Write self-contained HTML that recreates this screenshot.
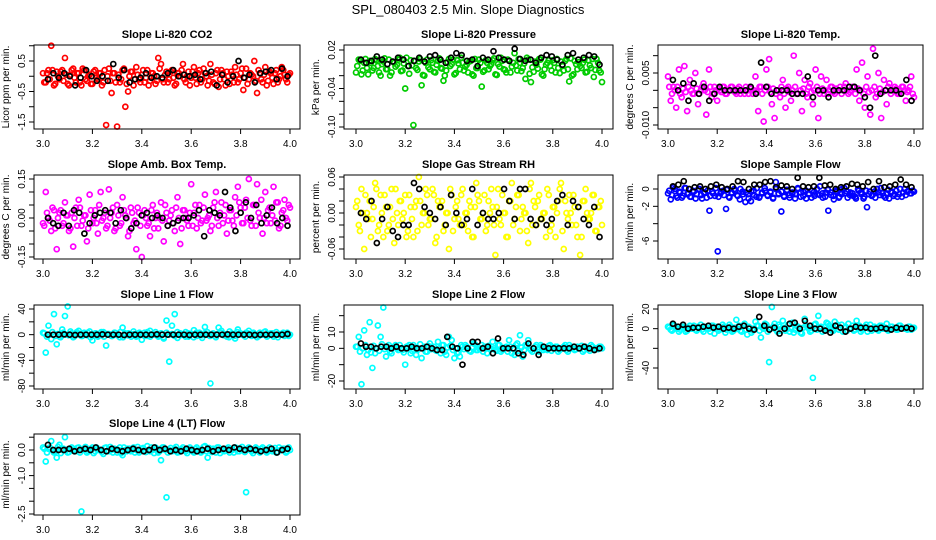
<!DOCTYPE html>
<html><head><meta charset="utf-8"><style>
html,body{margin:0;padding:0;background:#fff;}
svg{display:block;font-family:"Liberation Sans",sans-serif;}
</style></head><body>
<svg id="chart" width="936" height="540" viewBox="0 0 936 540" xmlns="http://www.w3.org/2000/svg">
<rect width="936" height="540" fill="#fff"/>
<text x="468" y="14" text-anchor="middle" font-size="13">SPL_080403  2.5 Min. Slope Diagnostics</text>
</svg>
<script>
const xTicks = [3.0,3.2,3.4,3.6,3.8,4.0];
const titles = ["Slope Li-820 CO2","Slope Li-820 Pressure","Slope Li-820 Temp.","Slope Amb. Box Temp.","Slope Gas Stream RH","Slope Sample Flow","Slope Line 1 Flow","Slope Line 2 Flow","Slope Line 3 Flow","Slope Line 4 (LT) Flow"];
const yTitles = ["Licor ppm per min.","kPa per min.","degrees C per min.","degrees C per min.","percent per min.","ml/min per min.","ml/min per min.","ml/min per min.","ml/min per min.","ml/min per min."];
const seriesColors = ["#ff0000","#00cc00","#ff00ff","#ff00ff","#ffff00","#0000ff","#00ffff","#00ffff","#00ffff","#00ffff"];
const yScaleFactor = [1,0.001,0.001,0.01,0.01,1,1,1,1,1];
const yTickValues = [[1,0.5,0,-0.5,-1,-1.5],[0.02,0,-0.02,-0.04,-0.06,-0.08,-0.10],[0.01,0.005,0,-0.005,-0.01],[0.15,0.1,0.05,0,-0.05,-0.1,-0.15],[0.06,0.04,0.02,0,-0.02,-0.04,-0.06],[0,-2,-4,-6],[40,20,0,-20,-40,-60,-80],[20,10,0,-10,-20],[20,0,-20,-40],[0.5,0,-0.5,-1,-1.5,-2,-2.5]];
const yTickLabels = [[null,"0.5",null,"-0.5",null,"-1.5"],["0.02",null,null,"-0.04",null,null,"-0.10"],[null,"0.005",null,null,"-0.010"],["0.15",null,null,"0.00",null,null,"-0.15"],["0.06",null,null,"0.00",null,null,"-0.06"],["0","-2",null,"-6"],["40",null,"0",null,"-40",null,"-80"],[null,"10","0",null,"-20"],["20","0",null,"-40"],[null,"0.0",null,"-1.0",null,null,"-2.5"]];
const yRefValues = [[0.5,-1.5],[0.02,-0.10],[0.005,-0.010],[0.15,-0.15],[0.06,-0.06],[0,-6],[40,-80],[10,-20],[20,-40],[0,-2.5]];

const co2Color = [0.1,-0.2,0.2,1.0,-0.3,0.15,-0.1,0.2,0.6,-0.25,0.05,0.25,-0.2,0.1,-0.3,0.2,-0.15,0.05,-0.25,0.2,-0.1,0.1,-0.2,-1.6,0.25,-0.55,0.1,-1.65,-0.2,0.2,-1.0,-0.5,0.15,-0.3,0.3,-0.1,0.05,-0.2,0.2,-0.15,0.1,-0.25,0.6,0.4,-0.2,0.15,-0.1,0.2,-0.3,0.1,0.0,0.4,-0.2,0.15,-0.05,0.3,-0.25,0.2,-0.1,0.1,-0.3,0.4,-0.2,0.1,-0.35,0.2,-0.1,0.15,-0.25,0.05,0.3,-0.2,0.1,-0.45,0.25,-0.1,0.05,0.5,-0.55,0.1,-0.2,0.3,-0.15,0.1,-0.25,0.2,-0.1,0.3,0.05,-0.2,0.1];
const co2Extra = [-0.2,0.1,-0.1,0.2,-0.25,0.0,0.15,-0.15,0.05,-0.3,0.2,-0.05,0.1,-0.2,0.25,-0.1,0.0,-0.25,0.15,-0.05,0.1,-0.3,0.2,0.0,-0.15,0.1,-0.2,0.05,-0.1,0.25,-0.25,0.0,0.15,-0.1,0.05,-0.2,0.2,-0.05,-0.3,0.1,0.0,-0.15,0.25,-0.1,0.05,-0.2,0.15,-0.05,-0.25,0.1,0.2,-0.1,0.0,-0.3,0.15,-0.05,0.1,-0.2,0.25,0.0,-0.15,0.05,-0.25,0.2,-0.1,0.1,-0.3,0.0,0.15,-0.2,0.05,-0.1,0.25,-0.05,-0.25,0.1,0.0,-0.15,0.2,-0.1,0.05,-0.3,0.15,-0.05,0.1,-0.2,0.0,0.2,-0.1,0.05];
const co2Black = [-0.1,0.1,-0.05,0.1,0.0,-0.3,-0.05,0.2,0.0,-0.15,0.0,-0.15,0.4,-0.05,0.2,-0.2,-0.1,-0.05,0.1,-0.05,0.0,-0.05,0.1,0.2,0.0,0.05,0.0,0.05,-0.1,0.1,0.15,-0.3,0.05,-0.2,0.0,0.5,-0.05,0.05,-0.2,0.1,0.15,0.2,-0.1,0.25,0.0];
const presColor = [-15,5,-18,0,-8,3,-12,6,-5,-20,2,-10,5,-15,0,-3,8,-12,-40,-5,4,-97,-8,2,-35,-20,5,-10,0,-15,3,-8,-28,-12,6,-2,-18,4,-10,0,-6,-15,3,-20,-8,5,-37,-12,0,-5,4,-18,-2,8,-10,-15,3,-6,15,-12,0,-8,-25,5,-30,-14,-3,6,-18,-10,0,-5,4,-15,-8,2,-12,6,-29,-20,3,-10,-5,0,-15,4,-8,-22,6,-12,-30];
const presExtra = [-5,3,-12,6,-18,0,-8,4,-15,-2,7,-10,-20,2,-6,5,-13,-1,8,-17,-4,3,-11,6,-19,0,-7,4,-14,-3,7,-9,-20,1,-5,5,-16,-1,8,-12,-3,2,-18,6,-8,0,-14,4,-10,-2,7,-19,-6,3,-11,5,-15,0,-4,6,-13,-1,8,-17,-7,2,-9,5,-20,-3,4,-12,0,6,-16,-5,3,-10,7,-18,-2,1,-8,5,-14,-4,6,-11,0,-15];
const presBlack = [5,0,3,10,5,-2,2,8,5,-5,3,8,2,10,12,5,0,8,15,12,3,5,-5,8,5,18,8,5,3,22,6,3,5,0,8,12,10,5,-3,12,15,5,8,12,10,-3];
const licorTempColor = [4,-3,1,-5,6,-2,7,-6,3,-1,5,-4,0,2,-7,6,-2,1,-3,0,1,-1,0,1,0,-1,1,0,-1,0,1,-1,4,-6,1,-9,6,9,-4,-8,0,-2,3,-5,1,-3,10,-1,5,-6,3,-2,2,-4,6,-8,4,-1,3,0,1,-1,0,1,0,2,-1,0,1,6,-3,8,-5,4,-7,12,-2,5,-8,3,-4,2,0,1,-1,0,1,-3,0,4,-2];
const licorTempExtra = [1,-1,0,1,-1,0.5,-0.5,1,0,-1,0.5,-1,1,0,-0.5,1,-1,0,0.5,-0.5,1,-1,0,1,-0.5,0.5,-1,0,1,-1,0.5,0,-0.5,1,-1,0,1,-0.5,0.5,-1,0,1,-1,0.5,-0.5,0,1,-1,0,0.5,-1,1,-0.5,0,1,-1,0.5,0,-1,1,-0.5,0.5,0,-1,1,0,-0.5,1,-1,0.5,0,-1,1,-0.5,0,1,-1,0.5,-0.5,0,1,-1,0,0.5,-1,1,0,-0.5,1,-1];
const licorTempBlack = [3,0,2,-3,2,-1,1,-3,-1,1,0,0,0,0,0,1,-1,8,1,-1,0,0,0,-1,-1,-1,4,-2,0,0,-2,0,0,0,1,1,0,-2,-5,10,-1,0,0,0,-1,3,-3];
const boxTempColor = [-2,10,0,-5,3,-12,2,-3,6,1,-4,-11,4,7,-3,1,-9,9,-2,3,-6,10,0,-4,11,2,-5,5,-3,8,1,-7,4,-2,-12,2,-15,3,-3,-7,5,0,-4,6,-9,2,-1,3,-5,8,-10,3,0,-3,13,2,-4,5,-1,9,0,-5,4,10,-3,6,1,-6,3,-1,8,12,4,-2,7,15,-3,5,13,0,-6,10,3,-2,12,6,-4,2,7,-1,4];
const boxTempExtra = [-3,2,-1,4,-4,0,3,-2,1,-5,2,0,-3,4,-1,1,-4,3,0,-2,5,-1,2,-3,0,4,-4,1,-2,3,0,-5,2,-1,4,-3,1,0,-2,3,-4,2,0,-1,5,-3,1,-2,4,0,-4,3,-1,2,-3,5,0,-2,4,-1,1,-3,6,0,2,-2,5,-1,3,-3,1,6,-2,4,0,-1,5,-3,2,7,0,-2,4,1,-1,6,-3,3,0,5];
const boxTempBlack = [0,-2,-3,2,-3,3,2,-6,-2,1,2,3,2,-2,3,0,-4,-2,1,2,0,1,0,-3,-2,-1,0,0,1,3,-7,3,2,1,10,4,-5,2,6,0,5,-2,1,4,-2,0,-3];
const rhColor = [1,-2,4,-6,0,2,-1,5,-3,3,-4,1,-2,4,-5,0,2,-1,3,-3,1,-4,2,6,-2,0,3,-1,4,-5,2,1,-3,0,-6,3,-1,2,-2,4,0,-3,1,-4,5,2,-1,3,-2,0,1,-7,4,-2,0,-4,2,5,-1,3,-3,1,0,-5,5,2,-2,3,-1,0,4,-3,1,-4,2,5,-6,0,3,-2,1,-4,-7,2,4,-1,0,3,-3,1,-2];
const rhExtra = [2,-3,0,3,-1,-4,1,4,-2,0,3,-3,1,-1,4,-2,2,0,-4,3,-1,1,-3,2,0,4,-2,-1,3,-4,1,2,-2,0,4,-3,1,-1,3,-2,0,2,-4,1,3,-1,0,-3,2,4,-2,1,-1,3,0,-4,2,-2,1,3,-1,0,-3,4,-2,1,2,-1,0,-4,3,-2,1,0,4,-3,2,-1,0,3,-2,1,-4,2,0,-1,3,-3,1,2];
const rhBlack = [0,-1,2,-5,-1,1,-3,-4,-2,-2,5,4,1,0,-1,1,-2,3,0,-2,-1,4,-2,0,-1,-1,0,4,2,-1,4,4,-1,-2,-1,-2,-1,2,3,-2,2,1,-1,-2,1,-4];
const sampleColor = [-0.5,-1.2,0.2,-0.8,-0.3,-1.0,0.1,-0.6,-0.9,-0.2,-1.1,0.0,-0.7,-0.4,-1.0,-2.5,-0.3,-0.8,-7.2,-0.5,-0.2,-2.3,-0.9,-0.4,0.0,-0.7,-1.2,-0.3,-1.5,-0.6,-1.4,-0.2,-0.9,-1.0,-0.4,0.1,-0.7,-0.3,-1.1,0.8,-0.5,-2.6,-0.8,-0.2,-1.0,-0.4,-0.6,0.0,-0.9,-0.3,-1.1,-0.5,-0.2,-0.8,-0.6,0.3,-1.0,-0.4,-2.5,-0.7,-1.2,-0.3,-0.9,0.0,-0.5,-1.0,-0.4,-0.8,-1.1,-0.2,-0.6,-0.9,-2.1,-0.3,-0.7,-1.0,-0.4,0.1,-0.8,-0.5,-1.1,-0.3,-0.6,-0.9,0.0,-0.4,-0.7,-0.2,-0.5,-0.3];
const sampleExtra = [-0.2,-0.7,0.0,-1.0,-0.4,-0.8,0.1,-0.5,-0.9,-0.3,-0.6,0.0,-1.1,-0.4,-0.2,-0.8,-0.5,0.1,-0.9,-0.3,-0.7,-0.1,-1.0,-0.5,-0.2,-0.8,0.0,-0.6,-0.4,-1.1,-0.3,-0.7,0.1,-0.9,-0.5,-0.2,-0.8,-0.4,-1.0,0.0,-0.6,-0.3,-0.9,-0.1,-0.7,-0.5,-1.1,0.1,-0.4,-0.8,-0.2,-0.6,-1.0,-0.3,0.0,-0.7,-0.5,-0.9,-0.1,-0.4,-0.8,-0.2,-1.0,-0.6,0.1,-0.3,-0.7,-0.5,-0.9,0.0,-0.4,-1.1,-0.2,-0.6,-0.8,-0.3,0.0,-0.7,-0.5,-1.0,-0.1,-0.4,-0.8,-0.2,-0.6,-0.9,0.0,-0.3,-0.5,-0.2];
const sampleBlack = [0.3,0.5,0.9,0.0,0.2,0.3,0.0,0.3,0.5,0.2,0.0,0.3,0.9,0.8,0.0,0.5,0.5,0.8,0.9,0.2,0.4,0.3,0.0,1.3,0.3,0.2,0.3,1.3,0.4,0.5,0.0,0.2,0.3,0.6,0.5,0.3,0.8,0.0,0.9,0.2,0.3,0.5,1.1,0.5,0.2];
const line1Color = [3,-28,14,-7,32,-15,-3,8,29,44,5,-4,2,6,-2,3,-1,5,-9,2,-3,0,4,-17,1,-2,3,0,-4,11,2,-1,0,5,-3,1,-8,3,-2,6,0,4,-3,1,-6,22,-42,14,32,-5,2,0,4,-3,1,7,-2,3,-5,12,0,-76,2,-4,11,6,1,-3,5,0,-6,8,2,-1,3,6,-2,1,-4,3,0,5,-1,2,-3,4,0,1,-2,3,0];
const line1Extra = [2,-3,0,4,-2,1,-4,3,0,-1,2,-3,4,0,-2,1,3,-4,0,2,-1,4,-3,1,0,-2,3,-1,4,-4,0,2,-3,1,-1,3,0,-2,4,-3,1,0,-1,2,-4,3,0,1,-2,4,-1,0,-3,2,1,-4,3,0,-1,2,4,-2,0,-3,1,3,-1,0,-4,2,-2,4,1,0,-3,2,-1,3,0,-2,1,4,-3,0,2,-1,-4,1,3,0,-2];
const line1Black = [0,0,0,0.5,0,-0.5,0,0,0,0,0.5,0,0,0,-0.5,0,0,0,0,0,0.5,0,0,0,0,0,-0.5,0,0,0,0,0,0,0.5,0,0,0,0,-0.5,0,0,0,0,0,1];
const line2Color = [1,7,-22,11,-4,16,-12,-3,14,7,25,-5,2,-3,1,0,2,-1,-10,1,-3,2,-4,0,-6,1,-2,3,0,-1,4,-3,2,-4,7,5,-6,-3,-5,1,2,0,-2,3,-1,0,2,1,-3,0,4,-1,2,-2,0,1,5,-3,-4,3,8,-5,2,5,-1,0,2,-2,1,0,-1,2,0,1,-2,0,1,-1,2,0,-1,1,0,-2,1,0,2,-1,0,1,0];
const line2Extra = [1,-2,0,2,-1,-2.5,1.5,0,-1.5,2.5,-0.5,1,-2,0.5,2,-1,0,-2.5,1,2,-1.5,0.5,-1,2.5,0,-2,1.5,-0.5,1,-1.5,0,2,-2,0.5,1.5,-1,0,-2.5,2,-0.5,1,-1.5,0.5,2.5,-1,0,-2,1,1.5,-0.5,0,-1.5,2,-1,0.5,-2,1,0,2,-1.5,0.5,-1,1.5,0,-2,1,-0.5,2,-1,0,1.5,-1.5,0.5,1,-1,0,2,-2,0.5,1,-0.5,0,1.5,-1,0.5,-1.5,1,0,-0.5,1];
const line2Black = [3,1,1,0,1,1,0,1,0,0,1,0,0,1,0,-1,-1,7,1,0,-10,0,4,4,0,1,-3,6,0,0,0,-3,-4,3,0,-4,1,0,0,0,0,0,1,0,1,0,-1,0];
const line3Color = [2,-1,4,0,-3,2,1,-2,3,0,-1,2,4,-3,1,0,3,-5,2,-1,4,-4,1,2,-2,9,3,-3,5,-6,1,-2,7,3,-9,0,4,-34,22,5,-3,2,8,-2,4,0,-4,3,1,-5,10,2,-3,-50,5,13,2,-1,6,3,-2,7,4,1,-3,2,5,0,-2,8,3,-1,2,-3,4,0,1,-2,3,0,5,-1,2,0,-1,3,1,0,2,-1,1];
const line3Extra = [1,-2,3,0,-1,2,-3,1,0,3,-2,1,-1,2,0,-3,3,1,-2,0,2,-1,4,-3,1,0,-2,3,-1,2,-4,0,3,-2,1,5,-3,0,2,-1,4,-2,1,0,-3,6,-1,2,-4,1,3,0,-2,4,-1,1,-3,2,5,0,-2,3,-1,4,1,-2,0,3,-1,2,-3,1,4,0,-2,2,-1,3,0,1,-2,2,0,-1,3,1,0,-1,2,0];
const line3Black = [5,2,4,0,1,1,2,3,1,2,0,1,0,2,3,0,-1,12,3,-1,1,-5,0,5,6,0,8,3,0,0,-2,-4,3,1,-3,0,2,1,1,0,0,1,0,-1,1,0,1,0];
const line4Color = [0.1,-0.45,0.05,0.35,-0.1,-0.3,0.2,0.0,0.5,-0.1,0.05,0.0,-0.05,0.1,-2.4,0.05,-0.1,0.0,0.1,-0.05,0.05,0.0,-0.15,0.1,-0.05,0.0,0.05,-0.1,0.1,-0.2,0.0,0.05,-0.05,0.1,0.0,-0.1,0.05,0.0,0.15,-0.05,0.0,0.1,-0.1,-0.4,0.1,-1.85,0.0,-0.05,0.05,-0.1,0.0,0.1,-0.05,0.05,0.0,-0.1,0.1,0.0,-0.05,0.15,-0.3,0.0,0.05,-0.1,0.1,0.0,-0.05,0.05,-0.1,0.0,0.1,-0.05,0.05,0.0,-1.65,0.1,-0.05,0.0,0.05,-0.1,0.1,0.0,-0.05,0.05,0.0,-0.1,0.1,0.0,0.05,-0.05,0.0];
const line4Extra = [0.05,-0.1,0.1,0.0,-0.05,0.12,-0.12,0.05,0.0,-0.08,0.1,-0.05,0.08,-0.1,0.0,0.12,-0.05,0.05,-0.12,0.1,0.0,-0.08,0.08,-0.03,0.12,-0.1,0.03,0.0,-0.12,0.1,-0.05,0.05,0.0,-0.1,0.12,-0.03,0.08,-0.08,0.0,0.1,-0.12,0.05,-0.05,0.1,0.0,-0.1,0.08,-0.03,0.12,-0.08,0.03,0.0,-0.12,0.1,-0.05,0.05,0.0,-0.1,0.12,-0.05,0.08,-0.08,0.0,0.1,-0.12,0.03,-0.03,0.1,0.0,-0.1,0.08,-0.05,0.12,-0.08,0.05,0.0,-0.12,0.1,-0.03,0.05,0.0,-0.1,0.1,-0.05,0.08,-0.08,0.0,0.05,-0.1,0.1];
const line4Black = [0.2,0.0,0.0,0.0,0.05,-0.05,0.0,0.05,0.0,0.1,0.0,-0.05,0.05,0.0,-0.05,0.0,0.05,0.0,-0.05,0.0,0.1,0.0,0.05,-0.05,0.0,-0.05,0.05,0.0,-0.05,0.0,0.05,-0.05,0.0,0.05,0.0,0.1,0.05,0.0,0.05,0.0,-0.05,0.0,0.05,-0.1,0.0,0.05];

const colorSeries = [co2Color,presColor,licorTempColor,boxTempColor,rhColor,sampleColor,line1Color,line2Color,line3Color,line4Color];
const extraSeries = [co2Extra,presExtra,licorTempExtra,boxTempExtra,rhExtra,sampleExtra,line1Extra,line2Extra,line3Extra,line4Extra];
const blackSeries = [co2Black,presBlack,licorTempBlack,boxTempBlack,rhBlack,sampleBlack,line1Black,line2Black,line3Black,line4Black];

const colBox = [[34,300],[344,613],[658,923]];
const colX = [[43,290],[356,602],[668,914]];
const rowBox = [[45,129],[175,259],[305,389],[434,515]];
const yRefPx = [[61,122],[50,127],[73,125],[179,257],[177,249],[189,241],[309,386],[332,381],[309,368],[450,514]];
const NS = "http://www.w3.org/2000/svg";
const svg = document.getElementById("chart");
function mk(tag, attrs, parent){const e=document.createElementNS(NS,tag);for(const k in attrs)e.setAttribute(k,attrs[k]);(parent||svg).appendChild(e);return e;}

for (let p=0;p<10;p++){
  const col=p%3,row=Math.floor(p/3);
  const [bx0,bx1]=colBox[col],[by0,by1]=rowBox[row];
  const [x30,x40]=colX[col];
  const xs=v=>x30+(v-3)*(x40-x30);
  const [v1,v2]=yRefValues[p],[p1,p2]=yRefPx[p];
  const ys=v=>p1+(v-v1)*(p2-p1)/(v2-v1);
  const g=mk("g",{});
  
  
  const t=mk("text",{x:(bx0+bx1)/2,y:by0-7,"text-anchor":"middle","font-size":"11","font-weight":"bold"},g);
  t.textContent=titles[p];
  
  
  const f=yScaleFactor[p];
  const es=extraSeries[p];
  es.forEach((v,i)=>{
    const c=mk("circle",{cx:xs(3.005+0.99*i/(es.length-1)),cy:ys(v*f),r:2.5,fill:"none",stroke:seriesColors[p],"stroke-width":1.7},g);
    
    
  });
  const cs=colorSeries[p];
  cs.forEach((v,i)=>{
    const c=mk("circle",{cx:xs(3+i/(cs.length-1)),cy:ys(v*f),r:2.5,fill:"none",stroke:seriesColors[p],"stroke-width":1.7},g);
    
    
  });
  const bs=blackSeries[p];
  bs.forEach((v,i)=>{
    const c=mk("circle",{cx:xs(3.02+0.97*i/(bs.length-1)),cy:ys(v*f),r:2.5,fill:"none",stroke:"#000","stroke-width":1.7},g);
    
    
  });
  const box=mk("rect",{x:bx0,y:by0,width:bx1-bx0,height:by1-by0,fill:"none",stroke:"#000","stroke-width":1},g);
  
  
  xTicks.forEach(v=>{
    mk("line",{x1:xs(v),x2:xs(v),y1:by1,y2:by1+5,stroke:"#000"},g);
    const l=mk("text",{x:xs(v),y:by1+18,"text-anchor":"middle","font-size":"10"},g);
    l.textContent=v.toFixed(1);
    
    
  });
  yTickValues[p].forEach((v,i)=>{
    const y=ys(v);
    mk("line",{x1:bx0-5,x2:bx0,y1:y,y2:y,stroke:"#000"},g);
    const lab=yTickLabels[p][i];
    if(lab){
      const l=mk("text",{x:bx0-9,y:y,"text-anchor":"middle","font-size":"10",transform:`rotate(-90 ${bx0-9} ${y})`},g);
      l.textContent=lab;
      
      
    }
  });
  const ym=(by0+by1)/2, yx=bx0-25;
  const yt=mk("text",{x:yx,y:ym,"text-anchor":"middle","font-size":"10",transform:`rotate(-90 ${yx} ${ym})`},g);
  yt.textContent=yTitles[p];
  
  
}
</script>
</body></html>
